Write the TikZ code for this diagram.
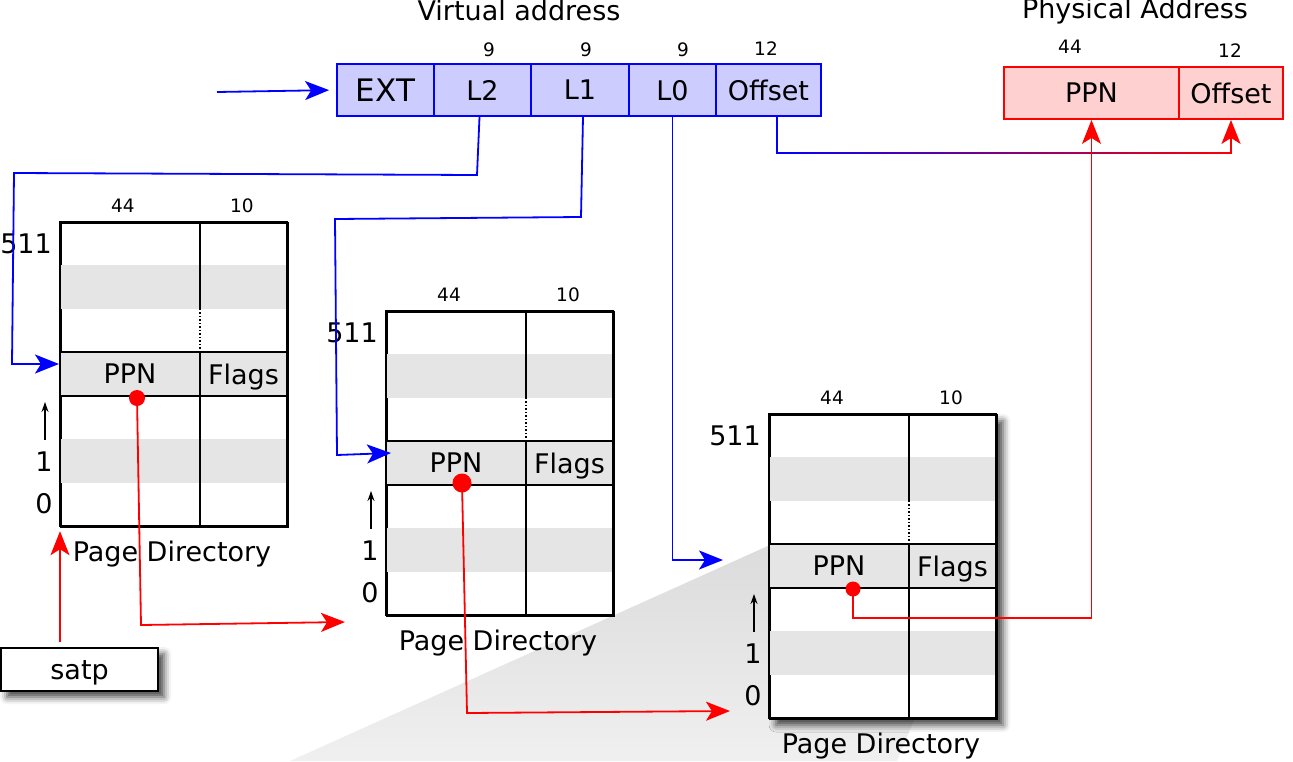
\documentclass[tikz,border=0pt]{standalone}
\usepackage{fontspec}
\setmainfont{DejaVu Sans}
\usetikzlibrary{arrows.meta,shadows.blur,calc}
\definecolor{vfill}{RGB}{204,204,255}
\definecolor{pfill}{RGB}{255,208,208}
\definecolor{rowgray}{RGB}{229,229,229}
\tikzset{
  bigfont/.style={font=\fontsize{27}{32}\selectfont},
  smallfont/.style={font=\fontsize{18.5}{22}\selectfont},
  vcell/.style={draw=blue, fill=vfill, line width=1.8pt, minimum height=52pt, inner sep=0pt, text depth=0pt, bigfont},
  pcell/.style={draw=red, fill=pfill, line width=1.8pt, minimum height=52pt, inner sep=0pt, text depth=0pt, bigfont},
  tcell/.style={inner sep=0pt, text depth=0pt, bigfont},
  lbl/.style={anchor=base, inner sep=0pt, bigfont},
  slbl/.style={anchor=base, inner sep=0pt, smallfont},
  bluearrow/.style={draw=blue, line width=1.8pt, -{Stealth[length=24pt,width=19pt,inset=6pt]}},
  redarrow/.style={draw=red, line width=1.8pt, -{Stealth[length=24pt,width=19pt,inset=6pt]}},
  uparrow/.style={draw=black, line width=1.3pt, -{Stealth[length=10pt,width=7pt]}},
  reddot/.style={circle, fill=red, inner sep=0pt},
  tablebox/.style={draw=black, fill=white, line width=2.2pt, minimum width=227pt, minimum height=304pt, inner sep=0pt, anchor=north west},
  dropshadow/.style={blur shadow={shadow xshift=6pt, shadow yshift=-6pt, shadow blur radius=7pt, shadow opacity=75}},
  plainbox/.style={},
}
\newcommand{\pagedir}[7]{%
\begin{scope}[shift={(#2,#3)}]
 \node[tablebox,#7] (#1) at (0,0) {};
 \fill[rowgray] (0,43.4) rectangle (227,86.9);
 \fill[rowgray] (0,130.3) rectangle (227,173.7);
 \fill[rowgray] (0,217.1) rectangle (227,260.6);
 \draw[line width=2pt] (0,130.3) -- (227,130.3) (0,173.7) -- (227,173.7);
 \draw[line width=2pt] (140,0) -- (140,86.9) (140,130.3) -- (140,304);
 \draw[line width=1.5pt, dotted] (140,86.9) -- (140,130.3);
 \draw[line width=2.2pt] (0,0) rectangle (227,304);
 \node[tcell] (#1-ppn) at (70,152) {PPN};
 \node[tcell] (#1-flags) at (183.5,152) {Flags};
 \node[slbl] (#1-w44) at (63,-10) {44};
 \node[slbl] (#1-w10) at (182,-10) {10};
 \node[lbl, anchor=base east] (#1-top) at (-8,31) {511};
 \node[lbl] (#1-one) at (-16,249) {1};
 \node[lbl] (#1-zero) at (-16,291) {0};
 \node[lbl] (#1-title) at (112,339) {Page Directory};
 \coordinate (#1-upa) at (-15,218);
 \coordinate (#1-upb) at (-15,180);
 \draw[uparrow] (#1-upa) -- (#1-upb);
 \node[reddot, minimum size=#6] (#1-dot) at (#4,#5) {};
\end{scope}}
\begin{document}
\begin{tikzpicture}[x=1pt,y=-1pt]
\useasboundingbox (0,0) rectangle (1293,761);
% perspective shade
\shade[top color=black!14, bottom color=black!6] (290,761) -- (770,545) -- (987,545) -- (897,761) -- cycle;

% virtual address
\node[lbl] (vtitle) at (519,20) {Virtual address};
\node[vcell, minimum width=97pt, font=\fontsize{31}{36}\selectfont] (EXT) at (385.5,90) {EXT};
\node[vcell, minimum width=97pt] (L2) at (482.5,90) {L2};
\node[vcell, minimum width=98pt] (L1) at (580,90) {L1};
\node[vcell, minimum width=87pt] (L0) at (672.5,90) {L0};
\node[vcell, minimum width=105pt] (voff) at (768.5,90) {Offset};
\node[slbl] (n9a) at (489,56) {9};
\node[slbl] (n9b) at (586,56) {9};
\node[slbl] (n9c) at (683,56) {9};
\node[slbl] (n12a) at (766,55) {12};

% physical address
\node[lbl] (ptitle) at (1135,18) {Physical Address};
\node[pcell, minimum width=175pt] (pppn) at (1091.5,93) {PPN};
\node[pcell, minimum width=104pt] (poff) at (1231,93) {Offset};
\node[slbl] (n44p) at (1070,53) {44};
\node[slbl] (n12p) at (1230,57) {12};

% page directories
\pagedir{T1}{60}{222}{77}{176}{16pt}{plainbox}
\pagedir{T2}{386}{311}{76}{172}{19pt}{plainbox}
\pagedir{T3}{769}{414}{84}{175}{15pt}{dropshadow}

% satp
\node[draw=black, fill=white, line width=2.2pt, minimum width=157pt, minimum height=43pt, inner sep=0pt, text depth=0pt, bigfont, dropshadow, anchor=north west] (satp) at (0,647) {satp};

% connector end points
\coordinate (vin) at (217,92);
\coordinate (t1in) at (59,364);
\coordinate (t2in) at (391,453);
\coordinate (t3in) at (723,560);
\coordinate (t2low) at (345,622);
\coordinate (t3low) at (730,711);
\coordinate (satpout) at (60,642);
\coordinate (t3c) at (1091.5,618);

% blue connectors
\draw[bluearrow, shorten >=7pt] (vin) -- (EXT.west);
\draw[bluearrow] ([xshift=-3pt]L2.south) -- (477,175) -- (14,173) -- (12,364) -- (t1in);
\draw[bluearrow] ([xshift=3pt]L1.south) -- (581,217) -- (335,219) -- (337,455) -- (t2in);
\draw[bluearrow] (L0.south) -- (672.5,560) -- (t3in);
\draw[blue, line width=1.8pt] ([xshift=8.5pt]voff.south) -- (777,153.9);
\shade[left color=blue, right color=red] (776.1,152.1) rectangle (1231.9,153.9);
\draw[redarrow] (1231,153) -- (poff.south);

% red connectors
\draw[redarrow] (satpout) -- ([yshift=-3pt]T1.south west);
\draw[redarrow] (T1-dot.center) -- (141,625) -- (t2low);
\draw[redarrow] (T2-dot.center) -- (467,713) -- (t3low);
\draw[red, line width=1.9pt] (T3-dot.center) |- (t3c);
\draw[redarrow, line width=1.1pt] (t3c) -- (pppn.south);
\end{tikzpicture}
\end{document}
